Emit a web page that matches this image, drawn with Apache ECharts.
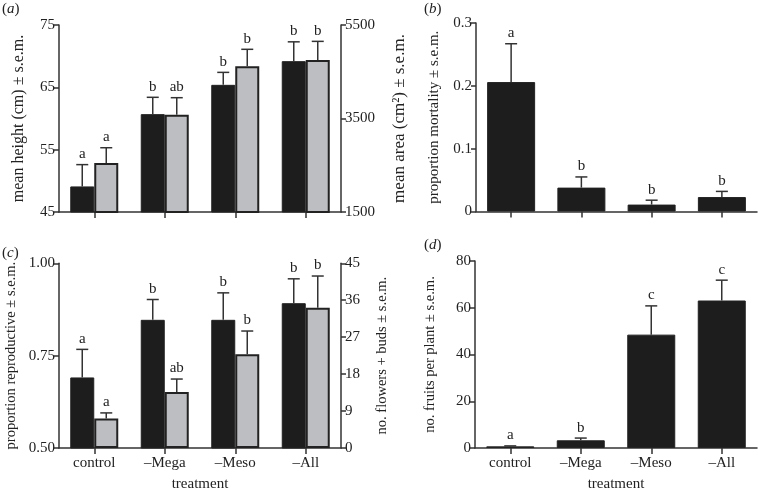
<!DOCTYPE html>
<html>
<head>
<meta charset="utf-8">
<script src="https://cdn.jsdelivr.net/npm/echarts@6/dist/echarts.min.js"></script>
<style>
html,body{margin:0;padding:0;background:#fff;}
#chart{width:758px;height:493px;}
</style>
</head>
<body>
<div id="chart"></div>
<script>
// ---- data ----
const categories = ['control', '\u2013Mega', '\u2013Meso', '\u2013All'];

const heightMean = [49.1, 60.7, 65.4, 69.2];
const heightSem  = [3.5, 2.7, 2.0, 3.1];
const heightLetters = ['a', 'b', 'b', 'b'];

const areaMean = [2550, 3580, 4615, 4750];
const areaSem  = [325, 365, 365, 400];
const areaLetters = ['a', 'ab', 'b', 'b'];

const mortMean = [0.206, 0.038, 0.011, 0.023];
const mortSem  = [0.061, 0.017, 0.007, 0.009];
const mortLetters = ['a', 'b', 'b', 'b'];

const reproMean = [0.691, 0.847, 0.847, 0.892];
const reproSem  = [0.076, 0.055, 0.073, 0.066];
const reproLetters = ['a', 'b', 'b', 'b'];

const flowersMean = [7.2, 13.65, 22.85, 34.2];
const flowersSem  = [1.35, 3.15, 5.65, 7.7];
const flowersLetters = ['a', 'ab', 'b', 'b'];

const fruitsMean = [0.7, 3.3, 48.5, 63.1];
const fruitsSem  = [0.2, 0.95, 12.3, 8.7];
const fruitsLetters = ['a', 'b', 'c', 'c'];

const heightTicks = [45, 55, 65, 75];
const areaTicks = [1500, 3500, 5500];

// ---- styling ----
const FONT = "'Liberation Serif', 'DejaVu Serif', serif";
const TXT = '#222';
const AX = '#333';
const BLACK = '#1d1d1d';
const GREY = '#bdbec1';

function yAx(gridIndex, min, max, interval, name, pos, gap, nameSize, fmt) {
  return {
    type: 'value', gridIndex: gridIndex, min: min, max: max, interval: interval,
    position: pos, name: name, nameLocation: 'middle', nameGap: gap, nameRotate: 90,
    nameTextStyle: {fontFamily: FONT, fontSize: nameSize, color: TXT},
    axisLine: {show: true, lineStyle: {color: AX, width: 1.5}},
    axisTick: {show: true, length: 5, lineStyle: {color: AX, width: 1.5}},
    axisLabel: {fontFamily: FONT, fontSize: 15, color: TXT, margin: 4, formatter: fmt || (v => String(v))},
    splitLine: {show: false}
  };
}
function xAx(gridIndex, showLabels) {
  return {
    type: 'category', gridIndex: gridIndex, data: categories,
    name: showLabels ? 'treatment' : '', nameLocation: 'middle', nameGap: 29,
    nameTextStyle: {fontFamily: FONT, fontSize: 15, color: TXT},
    axisLine: {show: true, lineStyle: {color: AX, width: 1.5}},
    axisTick: {show: true, alignWithLabel: true, length: 6, lineStyle: {color: AX, width: 1.5}},
    axisLabel: {show: showLabels, fontFamily: FONT, fontSize: 15, color: TXT, margin: 8},
    splitLine: {show: false}
  };
}
function bar(xi, yi, values, color, width, border) {
  return {
    type: 'bar', xAxisIndex: xi, yAxisIndex: yi, data: values,
    barWidth: width, barGap: '0%',
    itemStyle: {color: color, borderColor: '#222', borderWidth: border},
    emphasis: {disabled: true}, z: 2
  };
}
function errSeries(xi, yi, means, sems, letters, offset) {
  return {
    type: 'custom', xAxisIndex: xi, yAxisIndex: yi, z: 5,
    data: means.map((m, i) => [i, m, sems[i]]),
    renderItem: function (params, api) {
      const i = api.value(0), m = api.value(1), s = api.value(2);
      const p0 = api.coord([i, m]);
      const p1 = api.coord([i, m + s]);
      const x = p0[0] + offset;
      return {
        type: 'group',
        children: [
          {type: 'line', shape: {x1: x, y1: p0[1], x2: x, y2: p1[1]}, style: {stroke: AX, lineWidth: 1.5}},
          {type: 'line', shape: {x1: x - 6, y1: p1[1], x2: x + 6, y2: p1[1]}, style: {stroke: AX, lineWidth: 1.5}},
          {type: 'text', style: {x: x, y: p1[1] - 3, text: letters[params.dataIndex], fill: TXT,
            font: '15px ' + FONT, align: 'center', verticalAlign: 'bottom'}}
        ]
      };
    }
  };
}
function panelLabel(letter, left, top) {
  return {
    type: 'text', left: left, top: top,
    style: {text: '({i|' + letter + '})', rich: {i: {fontStyle: 'italic', fontFamily: FONT, fontSize: 15, fill: TXT}},
      fontFamily: FONT, fontSize: 15, fill: TXT}
  };
}

const chart = echarts.init(document.getElementById('chart'), null, {renderer: 'canvas'});
chart.setOption({
  backgroundColor: '#fff',
  animation: false,
  textStyle: {fontFamily: FONT},
  grid: [
    {left: 59, top: 25, width: 282, height: 187},
    {left: 476, top: 23, width: 281, height: 188.5},
    {left: 59, top: 263.3, width: 282, height: 185.7},
    {left: 475, top: 261, width: 282, height: 188}
  ],
  xAxis: [xAx(0, false), xAx(1, false), xAx(2, true), xAx(3, true)],
  yAxis: [
    yAx(0, heightTicks[0], heightTicks[heightTicks.length - 1], 10, 'mean height (cm) \u00b1 s.e.m.', 'left', 32, 16),
    yAx(0, areaTicks[0], areaTicks[areaTicks.length - 1], 2000, 'mean area (cm\u00b2) \u00b1 s.e.m.', 'right', 50, 17),
    yAx(1, 0, 0.3, 0.1, 'proportion mortality \u00b1 s.e.m.', 'left', 34, 15),
    yAx(2, 0.5, 1.0, 0.25, 'proportion reproductive \u00b1 s.e.m.', 'left', 40, 14.5, v => v.toFixed(2)),
    yAx(2, 0, 45, 9, 'no. flowers + buds \u00b1 s.e.m.', 'right', 34, 14.5),
    yAx(3, 0, 80, 20, 'no. fruits per plant \u00b1 s.e.m.', 'left', 37, 14.5)
  ],
  series: [
    bar(0, 0, heightMean, BLACK, 24, 1),
    bar(0, 1, areaMean, GREY, 24, 2),
    errSeries(0, 0, heightMean, heightSem, heightLetters, -12),
    errSeries(0, 1, areaMean, areaSem, areaLetters, 12),

    bar(1, 2, mortMean, BLACK, 48, 1),
    errSeries(1, 2, mortMean, mortSem, mortLetters, 0),

    bar(2, 3, reproMean, BLACK, 24, 1),
    bar(2, 4, flowersMean, GREY, 24, 2),
    errSeries(2, 3, reproMean, reproSem, reproLetters, -12),
    errSeries(2, 4, flowersMean, flowersSem, flowersLetters, 12),

    bar(3, 5, fruitsMean, BLACK, 48, 1),
    errSeries(3, 5, fruitsMean, fruitsSem, fruitsLetters, 0)
  ],
  graphic: [
    panelLabel('a', 2, 2),
    panelLabel('b', 424, 2),
    panelLabel('c', 2, 246),
    panelLabel('d', 424, 238)
  ]
});
</script>
</body>
</html>
